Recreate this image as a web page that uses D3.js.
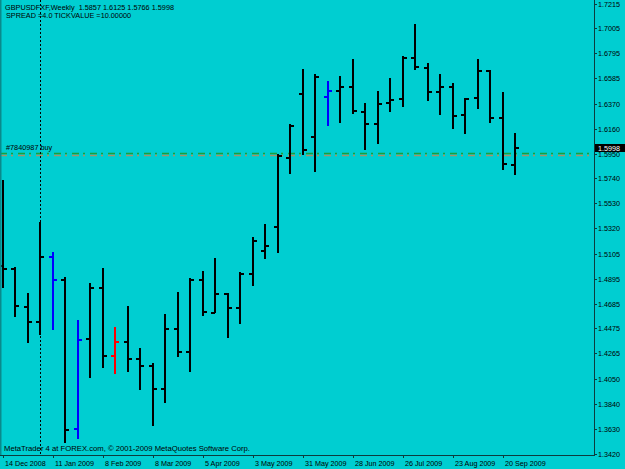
<!DOCTYPE html>
<html>
<head>
<meta charset="utf-8">
<script src="https://cdn.jsdelivr.net/npm/d3@7/dist/d3.min.js"></script>
<style>
  body { margin: 0; background: #00ced1; }
  svg { display: block; font-family: "Liberation Sans", Arial, sans-serif; }
</style>
</head>
<body>
<svg id="chart" width="625" height="469"></svg>
<script>
// Weekly GBPUSD bars, 14 Dec 2008 .. 27 Sep 2009
const opens  = [1.5000, 1.4973, 1.4658, 1.4532, 1.5080, 1.4883, 1.3624, 1.4383, 1.4813, 1.4242,
                1.4363, 1.4217, 1.4160, 1.3960, 1.4470, 1.4279, 1.4883, 1.4607, 1.4768, 1.4647,
                1.4931, 1.5128, 1.5328, 1.5910, 1.6454, 1.6087, 1.6424, 1.6480, 1.6511, 1.6302,
                1.6201, 1.6376, 1.6410, 1.6753, 1.6673, 1.6469, 1.6511, 1.6272, 1.6418, 1.6648,
                1.6247, 1.5857];
const highs  = [1.5727, 1.4990, 1.4771, 1.5375, 1.5122, 1.4911, 1.4546, 1.4860, 1.4982, 1.4484,
                1.4664, 1.4307, 1.4181, 1.4596, 1.4779, 1.4898, 1.4959, 1.5066, 1.4776, 1.4948,
                1.5248, 1.5353, 1.5943, 1.6196, 1.6663, 1.6618, 1.6564, 1.6604, 1.6744, 1.6378,
                1.6480, 1.6584, 1.6775, 1.7040, 1.6716, 1.6623, 1.6545, 1.6421, 1.6744, 1.6657,
                1.6466, 1.6125];
const lows   = [1.4813, 1.4574, 1.4349, 1.4419, 1.4462, 1.3510, 1.3540, 1.4054, 1.4139, 1.4090,
                1.4110, 1.3956, 1.3649, 1.3843, 1.4231, 1.4110, 1.4580, 1.4602, 1.4392, 1.4512,
                1.4835, 1.5059, 1.5111, 1.5775, 1.5937, 1.5796, 1.6179, 1.6205, 1.6281, 1.5979,
                1.6028, 1.6302, 1.6340, 1.6652, 1.6393, 1.6275, 1.6157, 1.6112, 1.6323, 1.6210,
                1.5811, 1.5766];
const closes = [1.4973, 1.4664, 1.4532, 1.5080, 1.4883, 1.3618, 1.4377, 1.4813, 1.4242, 1.4363,
                1.4217, 1.4160, 1.3960, 1.4470, 1.4279, 1.4883, 1.4616, 1.4768, 1.4647, 1.4931,
                1.5210, 1.5172, 1.5926, 1.6184, 1.5982, 1.6595, 1.6475, 1.6511, 1.6308, 1.6201,
                1.6370, 1.6404, 1.6758, 1.6679, 1.6469, 1.6513, 1.6266, 1.6410, 1.6648, 1.6249,
                1.5864, 1.5998];
// bars drawn in a highlight colour
const barColors = { 4: '#0000ff', 6: '#0000ff', 9: '#ff0000', 26: '#0000ff' };

const dateLabels = ['14 Dec 2008', '11 Jan 2009', '8 Feb 2009', '8 Mar 2009', '5 Apr 2009', '3 May 2009',
                    '31 May 2009', '28 Jun 2009', '26 Jul 2009', '23 Aug 2009', '20 Sep 2009'];
const dateBars = [0, 4, 8, 12, 16, 20, 24, 28, 32, 36, 40];
const priceLabels = ['1.7215', '1.7005', '1.6795', '1.6585', '1.6370', '1.6160', '1.5950', '1.5740',
                     '1.5530', '1.5320', '1.5105', '1.4895', '1.4685', '1.4475', '1.4265', '1.4050',
                     '1.3840', '1.3630', '1.3420'];

const header1 = 'GBPUSDFXF,Weekly  1.5857 1.6125 1.5766 1.5998';
const header2 = 'SPREAD =4.0 TICKVALUE =10.00000';
const footer = 'MetaTrader 4 at FOREX.com, \u00a9 2001-2009 MetaQuotes Software Corp.';
const orderLabel = '#7840987 buy';
const orderPrice = 1.5954;
const orderPrice2 = 1.5937;
const lastPrice = 1.5998;
const separatorBar = 3;

const svg = d3.select('#chart');
const plotRight = 594, plotBottom = 455;

const x = d3.scaleLinear().domain([0, 1]).range([2.5, 15]);
const y = d3.scaleLinear().domain([1.3420, 1.7215]).range([453.5, 3.5]);

svg.append('rect').attr('width', 625).attr('height', 469).attr('fill', '#00ced1');

// order lines (dash-dot)
svg.append('line')
    .attr('x1', 0).attr('x2', plotRight)
    .attr('y1', Math.round(y(orderPrice2)) + 0.5).attr('y2', Math.round(y(orderPrice2)) + 0.5)
    .attr('stroke', '#a8926a').attr('stroke-width', 1.6)
    .attr('stroke-dasharray', '7,4,2,5');
svg.append('line')
    .attr('x1', 0).attr('x2', plotRight)
    .attr('y1', Math.round(y(orderPrice)) + 0.5).attr('y2', Math.round(y(orderPrice)) + 0.5)
    .attr('stroke', '#18a03c').attr('stroke-width', 1.5)
    .attr('stroke-dasharray', '7,4,2,5');

// vertical separator
svg.append('line')
    .attr('x1', Math.round(x(separatorBar)) + 0.5).attr('x2', Math.round(x(separatorBar)) + 0.5)
    .attr('y1', 0).attr('y2', plotBottom)
    .attr('stroke', '#000').attr('stroke-width', 1)
    .attr('stroke-dasharray', '2,2');

// OHLC bars
const bars = svg.append('g').attr('shape-rendering', 'crispEdges');
const idx = d3.range(closes.length);
bars.selectAll('g.bar')
    .data(idx)
    .enter()
    .append('g')
    .attr('class', 'bar')
    .each(function(i) {
        const g = d3.select(this);
        const cx = Math.round(x(i));
        const col = barColors[i] || '#000';
        g.append('rect')
            .attr('x', cx - 1).attr('width', 2)
            .attr('y', Math.round(y(highs[i])))
            .attr('height', Math.round(y(lows[i])) - Math.round(y(highs[i])))
            .attr('fill', col);
        g.append('rect')
            .attr('x', cx - 4).attr('width', 4)
            .attr('y', Math.round(y(opens[i])) - 1).attr('height', 2)
            .attr('fill', col);
        g.append('rect')
            .attr('x', cx).attr('width', 4)
            .attr('y', Math.round(y(closes[i])) - 1).attr('height', 2)
            .attr('fill', col);
    });

// frame
const axisCol = '#0c3c3e';
svg.append('rect').attr('x', 0).attr('y', 0).attr('width', 1.5).attr('height', plotBottom).attr('fill', '#0a8a8c');
svg.append('line').attr('x1', plotRight + 0.5).attr('x2', plotRight + 0.5).attr('y1', 0).attr('y2', plotBottom + 1)
    .attr('stroke', axisCol).attr('stroke-width', 1);
svg.append('line').attr('x1', 0).attr('x2', plotRight + 1).attr('y1', plotBottom + 0.5).attr('y2', plotBottom + 0.5)
    .attr('stroke', axisCol).attr('stroke-width', 1);

// price axis (the 1.5950 label ends up mostly under the last-price box, as in MT4)
const pAxis = svg.append('g').attr('font-size', 7.2).attr('fill', '#000');
priceLabels.forEach(lbl => {
    const py = Math.round(y(+lbl)) + 0.5;
    pAxis.append('line').attr('x1', plotRight).attr('x2', plotRight + 3)
        .attr('y1', py).attr('y2', py).attr('stroke', axisCol);
    pAxis.append('text').attr('x', plotRight + 4).attr('y', py + 2.6).text(lbl);
});

// last price box
const ly = y(lastPrice);
svg.append('rect').attr('x', plotRight + 1).attr('y', Math.round(ly) - 4).attr('width', 30).attr('height', 8)
    .attr('fill', '#000');
svg.append('text').attr('x', plotRight + 4).attr('y', Math.round(ly) + 2.6)
    .attr('font-size', 7.2).attr('fill', '#fff').text(lastPrice.toFixed(4));

// date axis
const dAxis = svg.append('g').attr('font-size', 7.2).attr('fill', '#000');
dateLabels.forEach((lbl, k) => {
    const dx = Math.round(x(dateBars[k])) + 0.5;
    dAxis.append('line').attr('x1', dx).attr('x2', dx).attr('y1', plotBottom).attr('y2', plotBottom + 3)
        .attr('stroke', axisCol);
    dAxis.append('text').attr('x', dx + 1.5).attr('y', 466).text(lbl);
});

// texts
svg.append('text').attr('x', 5).attr('y', 9.5).attr('font-size', 7.3).style('white-space', 'pre').text(header1);
svg.append('text').attr('x', 6).attr('y', 17.5).attr('font-size', 7.3).text(header2);
svg.append('text').attr('x', 6).attr('y', 150).attr('font-size', 7.3).text(orderLabel);
svg.append('text').attr('x', 4).attr('y', 451).attr('font-size', 7.7).text(footer);
</script>
</body>
</html>
